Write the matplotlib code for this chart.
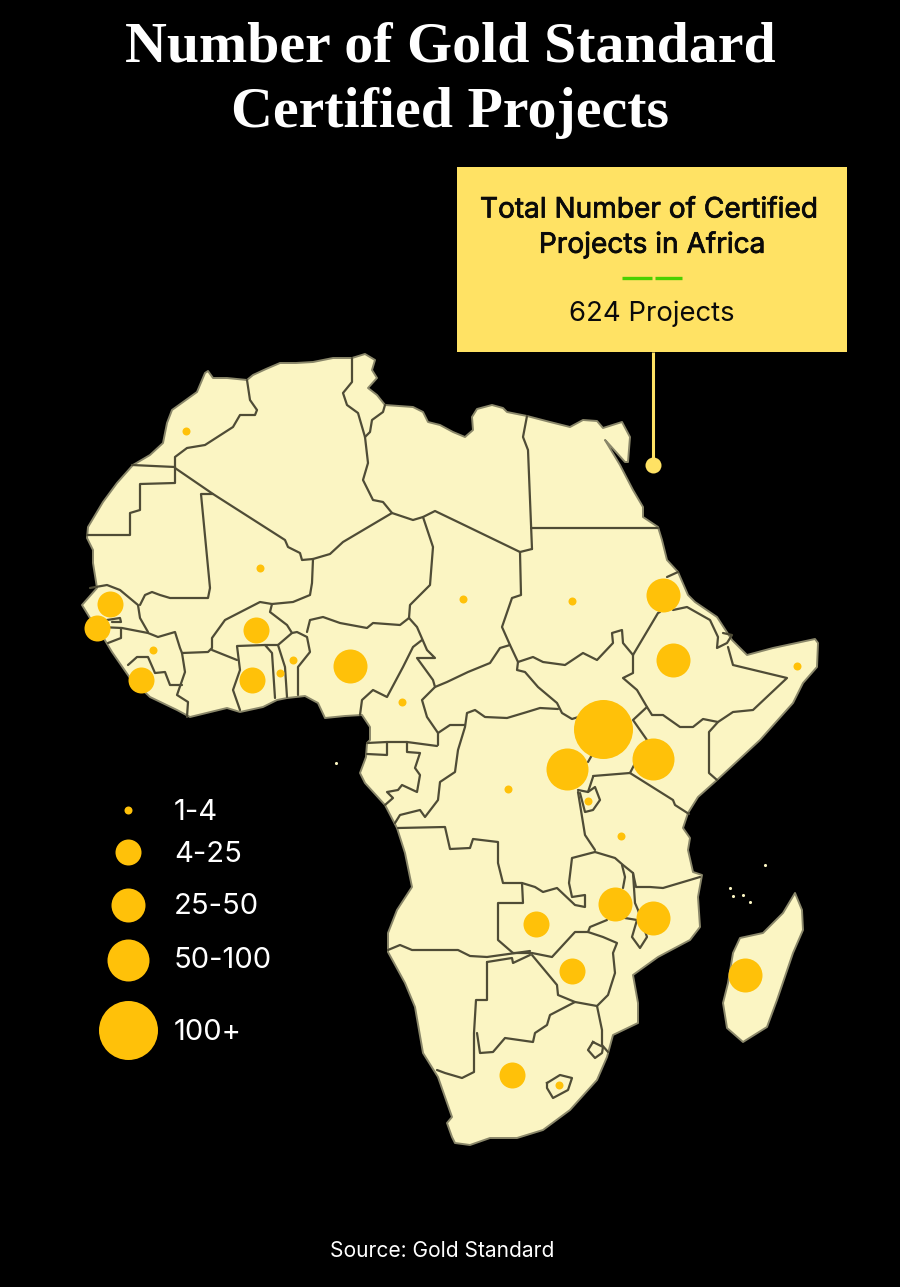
import matplotlib
matplotlib.use("Agg")
import matplotlib.pyplot as plt
import matplotlib.patheffects as pe
from matplotlib.patches import Polygon, Rectangle

# ---- Map geometry (x, y on a 900x1287 canvas)
coast = [(208,371),(213,378),(227,378),(247,380),(253,375),(266,369),(280,363),(296,363),(313,362),(333,358),(352,358),(365,354),(375,360),(372,370),(377,378),(368,388),(377,395),(385,405),(413,407),(423,412),(428,422),(440,425),(453,432),(465,437),(473,430),(472,417),(477,409),(492,405),(503,408),(507,412),(527,416),(550,422),(570,427),(583,420),(597,421),(603,428),(622,422),(630,437),(628,462),(625,462),(607,442),(605,440),(620,465),(633,490),(643,507),(643,517),(658,527),(662,540),(667,560),(678,572),(688,595),(695,602),(717,617),(732,640),(747,655),(773,648),(815,639),(818,643),(817,667),(803,683),(793,703),(760,740),(717,780),(698,797),(688,813),(683,828),(690,838),(688,850),(693,872),(702,875),(698,897),(700,927),(690,940),(658,957),(633,975),(638,1003),(638,1023),(613,1035),(607,1057),(597,1080),(570,1110),(543,1130),(517,1138),(490,1138),(470,1145),(455,1143),(452,1137),(447,1123),(452,1117),(438,1077),(423,1053),(415,1007),(405,983),(388,952),(388,933),(397,910),(412,887),(405,853),(397,828),(385,805),(365,783),(360,773),(366,757),(367,743),(370,740),(370,727),(362,715),(345,716),(325,718),(318,703),(305,696),(287,698),(277,700),(263,707),(240,712),(227,708),(190,717),(177,710),(150,697),(130,678),(112,652),(103,637),(97,632),(90,618),(82,605),(97,588),(93,563),(93,550),(87,538),(88,527),(103,502),(117,483),(133,465),(150,455),(163,443),(167,423),(172,410),(197,392),(205,373)]

madagascar = [(795,893),(802,910),(803,930),(793,953),(777,1000),(767,1027),(743,1042),(727,1028),(723,1003),(728,983),(733,953),(740,938),(763,933),(783,913)]
lesotho = [(547,1083),(560,1075),(572,1078),(568,1090),(553,1098),(547,1088),(547,1083)]
eswatini = [(593,1042),(588,1050),(595,1058),(602,1053),(603,1047),(593,1042)]
islands_x = [730,743,750,733,765,336]
islands_y = [888,895,902,896,865,763]

borders = [
 [(247,380),(250,400),(257,410),(255,415),(240,415),(233,427),(205,445),(187,448),(175,457),(175,467)],
 [(132,465),(175,467)],
 [(175,467),(175,483),(140,484),(140,510),(130,513),(130,535),(87,535)],
 [(175,468),(213,494),(285,540),(288,547),(300,553),(302,560),(313,559)],
 [(213,494),(201,494),(210,588),(208,598),(170,598),(160,595),(152,592),(145,595),(140,605)],
 [(90,588),(107,585),(120,590),(138,605),(140,618),(148,632)],
 [(107,620),(120,618),(121,622),(112,622)],
 [(100,627),(122,628),(148,633),(158,637),(175,632),(180,648),(182,653)],
 [(121,628),(121,638),(108,643)],
 [(182,653),(208,652),(212,648),(212,638),(225,620),(260,602),(272,604),(293,602),(310,595),(312,583),(313,559)],
 [(313,559),(330,554),(343,542),(392,513)],
 [(352,358),(352,382),(343,393),(347,405),(358,413),(365,437)],
 [(385,405),(383,412),(372,420),(370,432),(365,437)],
 [(365,437),(368,463),(363,480),(373,500),(383,502),(392,513)],
 [(392,513),(413,520),(423,517),(435,511),(460,523),(520,552),(532,549)],
 [(527,416),(523,437),(528,450),(532,549)],
 [(531,528),(658,528)],
 [(423,517),(433,547),(430,585),(410,605),(409,618)],
 [(409,618),(400,625),(373,623),(367,628),(340,623),(323,617),(310,620),(307,632)],
 [(272,604),(270,612),(287,625),(292,633),(297,632),(307,637),(310,652),(298,667),(298,695)],
 [(292,633),(278,645),(285,667),(287,697)],
 [(278,645),(265,645),(272,653),(275,698)],
 [(265,645),(237,646),(240,670),(233,690),(240,710)],
 [(212,650),(237,660)],
 [(182,653),(185,672),(177,695),(188,702),(187,717)],
 [(182,685),(170,685),(165,672),(155,673),(148,657),(137,657),(128,665)],
 [(409,618),(417,627),(427,650),(435,658),(417,658),(433,680),(435,687),(422,700),(427,717),(438,733),(438,745)],
 [(422,640),(413,647),(403,667),(387,697),(373,690),(362,700),(360,715)],
 [(435,687),(447,682),(468,672),(490,663),(500,648),(510,645)],
 [(520,552),(521,595),(512,598),(502,627),(510,645),(518,662),(533,657),(543,662),(565,665),(583,653),(597,660),(613,643),(612,633),(622,630),(623,643),(633,655)],
 [(633,655),(658,613),(660,612)],
 [(667,577),(678,572)],
 [(673,610),(687,607),(710,620),(718,637),(717,648),(727,643),(732,635),(723,633)],
 [(728,647),(733,665),(787,678),(753,710),(733,712),(718,722),(703,719),(693,727),(680,727),(663,715),(652,715),(647,707)],
 [(718,722),(709,732),(709,773),(717,780)],
 [(633,655),(633,673),(623,678),(637,690),(647,707),(633,720),(647,740),(630,773)],
 [(630,773),(673,800),(675,805),(689,814)],
 [(630,773),(593,776)],
 [(518,662),(517,670),(525,672),(538,687),(557,703),(562,713),(572,719),(585,715)],
 [(558,709),(540,708),(527,712),(507,718),(485,717),(475,710),(467,713),(465,727),(458,750),(455,772),(440,782),(438,800),(425,817),(420,810),(400,815),(395,823)],
 [(465,725),(450,725),(438,733)],
 [(367,754),(387,755),(387,743)],
 [(367,743),(387,742),(407,742),(437,746)],
 [(407,742),(407,752),(420,753),(415,768),(420,775),(417,792),(402,785),(398,790),(387,792),(393,798),(385,805)],
 [(398,828),(445,827),(450,849),(470,848),(473,839),(498,842),(498,863),(503,883),(522,883),(523,903),(498,903),(498,940),(513,953)],
 [(522,883),(535,887),(543,892),(557,888),(575,905),(585,907),(585,895),(572,897),(569,883),(572,858),(595,852)],
 [(595,850),(585,835),(578,792)],
 [(578,790),(588,792),(593,777)],
 [(580,793),(585,812),(593,810),(600,800),(595,787),(588,792)],
 [(588,762),(592,755)],
 [(595,852),(615,858),(623,865),(633,873),(636,887),(650,887),(663,888),(700,877)],
 [(633,873),(635,903),(638,910),(647,937),(640,948),(632,937),(637,920),(625,918)],
 [(622,865),(625,877),(623,888)],
 [(607,920),(590,927),(588,932),(575,932),(552,957),(532,953),(513,953)],
 [(388,950),(400,945),(412,950),(458,950),(470,956),(487,957),(530,951)],
 [(487,962),(512,958),(513,963),(530,955)],
 [(487,962),(487,1000),(476,1000),(474,1033),(474,1072),(462,1078),(445,1073),(437,1070)],
 [(532,955),(557,985),(558,995),(575,1002),(597,1006),(608,995),(615,973),(613,953),(617,943),(603,937),(588,932)],
 [(575,1002),(550,1015),(547,1025),(535,1033),(533,1042),(505,1038),(493,1052),(480,1053),(477,1033)],
 [(597,1006),(602,1030),(602,1045),(608,1052)],
]

# ---- Data: project count class per country
small_x = [186,260,463,572,797,153,280,293,402,508,588,621,559]
small_y = [431,568,599,601,666,650,673,660,702,789,801,836,1085]
mid_x = [110,97,141,256,252,536,572,512]
mid_y = [604,628,680,630,680,924,971,1075]
large_x = [350,663,673,615,653,745]
large_y = [666,595,660,904,918,975]
xlarge_x = [567,653]
xlarge_y = [769,759]
top_x = [603]
top_y = [729]
legend_labels = ["1-4","4-25","25-50","50-100","100+"]
legend_y = [810,852,905,960,1030]
legend_text_y = [813,854,907,961,1033]
radii = [4,13,17,21,29.5]

BLACK="#000000"; LAND="#FBF5C3"; LINE="#4F4C36"; GOLD="#FFC109"; BOX="#FFE264"; GREEN="#4BD000"
SANS=["Inter","DejaVu Sans"]
BOLDER=[pe.withStroke(linewidth=0.55,foreground="#0A0A0A")]

def s_of(r):
    return (2*r*0.72)**2

fig = plt.figure(figsize=(9,12.87), dpi=100, facecolor=BLACK)
ax = fig.add_axes([0,0,1,1])
ax.set_xlim(0,900); ax.set_ylim(1287,0); ax.axis("off")

for pts in (coast, madagascar):
    ax.add_patch(Polygon(pts, closed=True, fc=LAND, ec="#8A876A", lw=1.4, joinstyle="round", zorder=1))
for b in borders:
    xs,ys = zip(*b)
    ax.plot(xs,ys,color=LINE,lw=1.6,solid_joinstyle="round",solid_capstyle="round",zorder=2)
for loop in (lesotho, eswatini):
    xs,ys = zip(*loop)
    ax.plot(xs,ys,color=LINE,lw=1.6,zorder=2)
ax.scatter(islands_x,islands_y,s=5,color=LAND,lw=0,zorder=2)

for xs,ys,r in ((small_x,small_y,radii[0]),(mid_x,mid_y,radii[1]),(large_x,large_y,radii[2]),(xlarge_x,xlarge_y,radii[3]),(top_x,top_y,radii[4])):
    ax.scatter(xs,ys,s=s_of(r),color=GOLD,lw=0,zorder=3)

for lab,y,ty,r in zip(legend_labels,legend_y,legend_text_y,radii):
    ax.scatter([127.5],[y],s=s_of(r),color=GOLD,lw=0,zorder=3)
    ax.text(174,ty,lab,color="white",fontsize=21,family=SANS,va="center",ha="left")

# title
ax.text(450,47,"Number of Gold Standard",color="white",fontsize=41.7,family="Liberation Serif",weight="bold",ha="center",va="center")
ax.text(450,113,"Certified Projects",color="white",fontsize=41.7,family="Liberation Serif",weight="bold",ha="center",va="center")

# callout box
ax.add_patch(Rectangle((457,167),390,185,fc=BOX,ec="none",zorder=4))
ax.text(648.5,210,"Total Number of Certified",color="#0A0A0A",fontsize=20.2,family=SANS,ha="center",va="center",zorder=5,path_effects=BOLDER)
ax.text(652,245,"Projects in Africa",color="#0A0A0A",fontsize=20.2,family=SANS,ha="center",va="center",zorder=5,path_effects=BOLDER)
ax.plot([622,652],[278,278],color=GREEN,lw=2.4,solid_capstyle="butt",zorder=5)
ax.plot([655,682],[278,278],color=GREEN,lw=2.4,solid_capstyle="butt",zorder=5)
ax.text(652,314,"624 Projects",color="#0A0A0A",fontsize=19.8,family=SANS,ha="center",va="center",zorder=5)
ax.plot([653,653],[352,465],color=BOX,lw=2.2,zorder=4,solid_capstyle="butt")
ax.scatter([653],[465],s=s_of(8),color=BOX,lw=0,zorder=4)

ax.text(442,1251,"Source: Gold Standard",color="white",fontsize=15.1,family=SANS,ha="center",va="center")

fig.savefig("out.png",dpi=100,facecolor=BLACK)
